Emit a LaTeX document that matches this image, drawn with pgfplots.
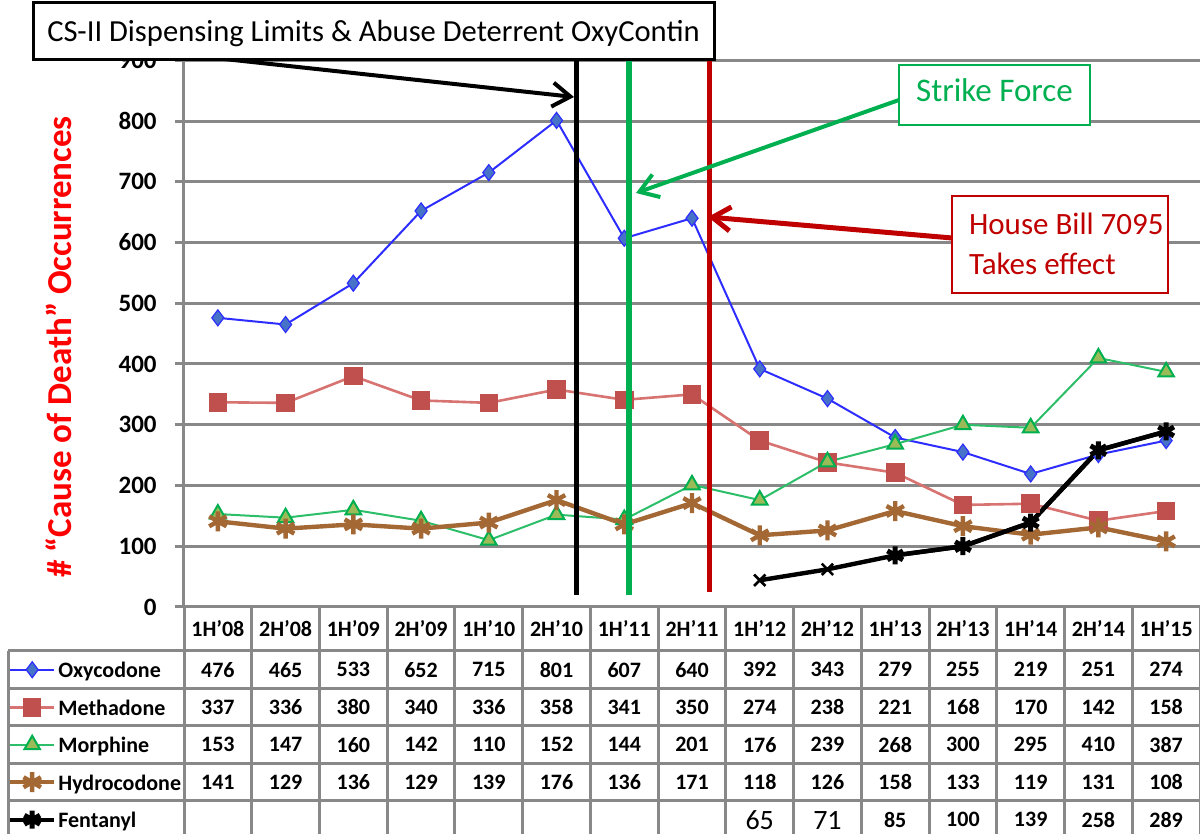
\documentclass[border=0pt]{standalone}
\usepackage{pgfplots}
\pgfplotsset{compat=1.18}
\usepackage{pgfplotstable}
\usepackage{fontspec}
\setmainfont{Carlito}
\usetikzlibrary{arrows.meta}

\definecolor{gridgray}{RGB}{136,136,136}
\definecolor{oxyline}{RGB}{45,45,255}
\definecolor{oxyfill}{RGB}{70,115,200}
\definecolor{methline}{RGB}{215,115,112}
\definecolor{methfill}{RGB}{192,80,77}
\definecolor{morphline}{RGB}{45,190,105}
\definecolor{morphedge}{RGB}{0,176,80}
\definecolor{morphfill}{RGB}{155,187,89}
\definecolor{hydro}{RGB}{163,104,52}
\definecolor{sfgreen}{RGB}{0,176,80}
\definecolor{hbred}{RGB}{192,0,0}

% half-year counts, x = period (0 = 1H'08 ... 14 = 1H'15)
\pgfplotstableread{
x oxy meth morph hydro
0 476 337 153 141
1 465 336 147 129
2 533 380 160 136
3 652 340 142 129
4 715 336 110 139
5 801 358 152 176
6 607 341 144 136
7 640 350 201 171
8 392 274 176 118
9 343 238 239 126
10 279 221 268 158
11 255 168 300 133
12 219 170 295 119
13 251 142 410 131
14 274 158 387 108
}\drugs

% fentanyl: y = plotted point, shown = number printed in the table
\pgfplotstableread{
x y shown
8 44 65
9 62 71
10 85 85
11 100 100
12 139 139
13 258 258
14 289 289
}\fent

\begin{document}
\begin{tikzpicture}
\useasboundingbox (0,0) rectangle (600pt,417pt);
\begin{axis}[
  at={(92pt,113.5pt)}, anchor=south west,
  scale only axis, width=508pt, height=273.375pt,
  xmin=-0.5, xmax=14.5, ymin=0, ymax=900,
  axis x line=none, axis y line=left,
  y axis line style={-, draw=gridgray, line width=1.5pt},
  ytick={0,100,...,900},
  ymajorgrids, major grid style={draw=gridgray, line width=1.5pt},
  tick align=outside, major tick length=4.5pt,
  major tick style={draw=gridgray, line width=1.5pt},
  yticklabel style={font=\bfseries\fontsize{12.5}{14}\selectfont, inner sep=0pt, xshift=-9pt},
  /pgf/number format/assume math mode=true,
  legend style={at={(-0.17323,-0.08048)}, anchor=north west, draw=none, fill=none,
    inner sep=0pt, outer sep=0pt, row sep=0pt, column sep=1pt,
    font=\bfseries\fontsize{11}{13}\selectfont,
    nodes={inner sep=0pt, text height=13.3pt, text depth=5.45pt}},
  legend cell align=left,
  legend image code/.code={\draw[mark repeat=2,mark phase=2,#1] plot coordinates {(0pt,0pt)(11pt,0pt)(22pt,0pt)};},
]
\addplot[oxyline, line width=1pt, mark=diamond*, mark size=4pt,
  mark options={fill=oxyfill, draw=oxyline, line width=0.6pt}] table[x=x,y=oxy]{\drugs};
\addlegendentry{Oxycodone}
\addplot[methline, line width=1.3pt, mark=square*, mark size=4pt,
  mark options={fill=methfill, draw=methfill}] table[x=x,y=meth]{\drugs};
\addlegendentry{Methadone}
\addplot[morphline, line width=1pt, mark=triangle*, mark size=4.5pt,
  mark options={fill=morphfill, draw=morphedge, line width=1pt}] table[x=x,y=morph]{\drugs};
\addlegendentry{Morphine}
\addplot[hydro, line width=2.2pt, mark=asterisk, mark size=5pt,
  mark options={line width=2.2pt}] table[x=x,y=hydro]{\drugs};
\addlegendentry{Hydrocodone}
\addplot[black, line width=2.2pt, forget plot] table[x=x,y=y]{\fent};
\addplot[black, line width=1.3pt, only marks, mark=x, mark size=4pt, forget plot,
  skip coords between index={2}{7}] table[x=x,y=y]{\fent};
\addplot[black, line width=2.2pt, mark=asterisk, mark size=4.5pt,
  mark options={line width=2.5pt}, skip coords between index={0}{2}] table[x=x,y=y]{\fent};
\addlegendentry{Fentanyl}
\end{axis}

% pixel-based scope: (px,py) of the 1200x834 image
\begin{scope}[x=0.5pt, y=-0.5pt, yshift=417pt]
  % data table grid
  \foreach \yy in {651,688.5,726,763.5,801}
    \draw[gridgray, line width=1.5pt] (8,\yy) -- (1200,\yy);
  \draw[gridgray, line width=1.5pt] (8,651) -- (8,834);
  \foreach \k in {0,...,15}
    \draw[gridgray, line width=1.5pt] ({184+67.733*\k},607) -- ({184+67.733*\k},834);
  % header
  \foreach \lab [count=\c from 0] in {1H'08,2H'08,1H'09,2H'09,1H'10,2H'10,1H'11,2H'11,1H'12,2H'12,1H'13,2H'13,1H'14,2H'14,1H'15}
    \node[inner sep=0pt, font=\bfseries\fontsize{11}{13}\selectfont] at ({184+67.733*(\c+0.5)},629) {\lab};
  % values
  \foreach \col/\r in {oxy/0,meth/1,morph/2,hydro/3}
    \foreach \c in {0,...,14}{
      \pgfplotstablegetelem{\c}{\col}\of\drugs
      \node[inner sep=0pt, font=\bfseries\fontsize{11}{13}\selectfont] at ({184+67.733*(\c+0.5)},{669.75+37.5*\r}) {\pgfplotsretval};
    }
  \foreach \i in {0,...,6}{
    \pgfplotstablegetelem{\i}{shown}\of\fent
    \ifnum\i<2
      \node[inner sep=0pt, font=\fontsize{14}{16}\selectfont] at ({184+67.733*(\i+8.5)},820) {\pgfplotsretval};
    \else
      \node[inner sep=0pt, font=\bfseries\fontsize{11}{13}\selectfont] at ({184+67.733*(\i+8.5)},819.75) {\pgfplotsretval};
    \fi
  }

  % event lines
  \draw[black, line width=2.5pt] (576,61) -- (576,595);
  \draw[sfgreen, line width=2.8pt] (629,61) -- (629,595);
  \draw[hbred, line width=2.5pt] (709,61) -- (709,592);

  % arrows
  \draw[black, line width=2pt, -{Straight Barb[length=9pt,width=12pt]}] (215,58) -- (574,97);
  \draw[sfgreen, line width=2pt, -{Straight Barb[length=9pt,width=12pt]}] (899,100) -- (636,193);
  \draw[hbred, line width=2.5pt, -{Straight Barb[length=9pt,width=12pt]}] (952,238) -- (708,217);

  % title box
  \draw[black, line width=1.5pt, fill=white] (33,3) rectangle (714,60);
  \node[anchor=base, font=\fontsize{15.3}{18}\selectfont] at (373.5,42) {CS-II Dispensing Limits \& Abuse Deterrent OxyContin};
  % strike force
  \draw[sfgreen, line width=1.3pt, fill=white] (899,65) rectangle (1090,125);
  \node[anchor=base, text=sfgreen, font=\fontsize{16.5}{18}\selectfont] at (994.5,102) {Strike Force};
  % house bill
  \draw[hbred, line width=1.3pt, fill=white] (952,196) rectangle (1168,293);
  \node[anchor=base west, text=hbred, font=\fontsize{15.5}{18}\selectfont] at (962,235) {House Bill 7095};
  \node[anchor=base west, text=hbred, font=\fontsize{15.5}{18}\selectfont] at (962,275) {Takes effect};

  % y label
  \node[anchor=base, rotate=90, text=red, font=\bfseries\fontsize{17.5}{20}\selectfont] at (71,347) {\# “Cause of Death” Occurrences};
\end{scope}
\end{tikzpicture}
\end{document}
